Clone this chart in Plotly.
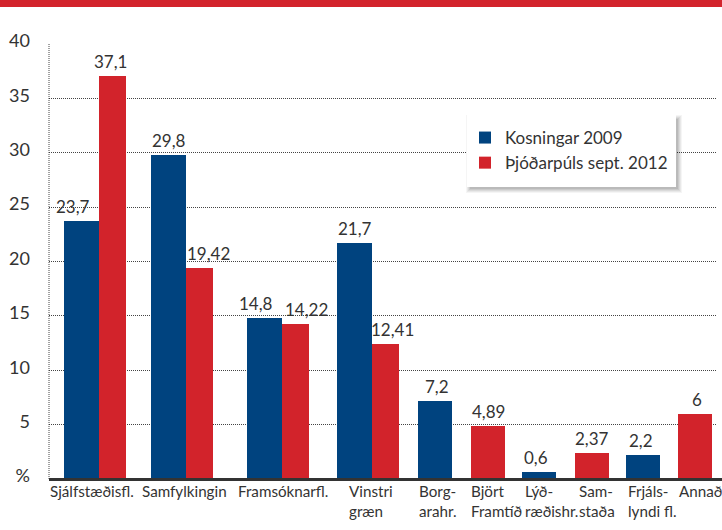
import plotly.graph_objects as go

# ---- data ----
parties = ["Sjálfstæðisfl.", "Samfylkingin", "Framsóknarfl.", "Vinstri<br>græn",
           "Borg-<br>arahr.", "Björt<br>Framtíð", "Lýð-<br>ræðishr.", "Sam-<br>staða",
           "Frjáls-<br>lyndi fl.", "Annað"]
kosningar_2009 = [23.7, 29.8, 14.8, 21.7, 7.2, None, 0.6, None, 2.2, None]
thjodarpuls_2012 = [37.1, 19.42, 14.22, 12.41, None, 4.89, None, 2.37, None, 6]
y_ticks = [0, 5, 10, 15, 20, 25, 30, 35, 40]
y_ticktext = ["%", "5", "10", "15", "20", "25", "30", "35", "40"]
series_names = ["Kosningar 2009", "Þjóðarpúls sept. 2012"]

# ---- layout constants (pixel space) ----
W, H = 722, 530
PL, PR, PT, PB = 49, 716, 44, 479
slot_left = [64, 151, 247, 337, 418, 471, 522, 575, 626, 678]
BLUE_W, RED_W_PAIR, SINGLE_W = 35, 27, 34
label_anchor = ["center", "center", "center", "left", "left", "left", "left", "left", "left", "left"]
label_shift = [-3, 2, 5, 10, -1, -2, 1, 2, 0, -1]
blue_dx = [-8.5, 0.5, -9, 0, 1.5, 0, -3, 0, -2.5, 0]
red_dx = [-2.5, 9, 10.5, 7, 0, 0, 0, 0, 0, 1.5]

BLUE = "#00437f"
RED = "#d2232b"
TXT = "#333333"
FONT = "Lato"


def fx(x):
    return (x - PL) / (PR - PL)


def fy(y):
    return (PB - y) / (PB - PT)


def fmt(v):
    return ("%g" % v).replace(".", ",")


bx, bw, by, bt, bdx = [], [], [], [], []
rx, rw, ry, rt, rdx = [], [], [], [], []
centers = []
for i, (b, r) in enumerate(zip(kosningar_2009, thjodarpuls_2012)):
    left = slot_left[i]
    if b is not None and r is not None:
        bx.append(left + BLUE_W / 2); bw.append(BLUE_W); by.append(b); bt.append(fmt(b)); bdx.append(blue_dx[i])
        rx.append(left + BLUE_W + RED_W_PAIR / 2); rw.append(RED_W_PAIR); ry.append(r); rt.append(fmt(r)); rdx.append(red_dx[i])
        centers.append((left + (left + BLUE_W + RED_W_PAIR)) / 2)
    elif b is not None:
        bx.append(left + SINGLE_W / 2); bw.append(SINGLE_W); by.append(b); bt.append(fmt(b)); bdx.append(blue_dx[i])
        centers.append(left + SINGLE_W / 2)
    else:
        rx.append(left + SINGLE_W / 2); rw.append(SINGLE_W); ry.append(r); rt.append(fmt(r)); rdx.append(red_dx[i])
        centers.append(left + SINGLE_W / 2)

fig = go.Figure()
fig.add_trace(go.Bar(x=bx, y=by, width=bw, name=series_names[0], marker_color=BLUE,
                     marker_line_width=0, hovertext=bt, hoverinfo="text+name"))
fig.add_trace(go.Bar(x=rx, y=ry, width=rw, name=series_names[1], marker_color=RED,
                     marker_line_width=0, hovertext=rt, hoverinfo="text+name"))

shapes = []
# red banner at top
shapes.append(dict(type="rect", xref="paper", yref="paper", x0=fx(0), x1=fx(W), y0=fy(0), y1=fy(7),
                   fillcolor="#d3242c", line_width=0, layer="above"))
# left dotted axis
shapes.append(dict(type="line", xref="paper", yref="paper", x0=0, x1=0, y0=0, y1=1,
                   line=dict(color="#444", width=1, dash="1px,1px"), layer="below"))
# baseline
shapes.append(dict(type="line", xref="paper", yref="paper", x0=0, x1=fx(W), y0=fy(479.5), y1=fy(479.5),
                   line=dict(color="#333", width=3), layer="above"))
# legend box with soft shadow
LX0, LX1, LY0, LY1 = 467, 676, 115, 187
for k, op in [(6, 0.04), (5, 0.05), (4, 0.06), (3, 0.07), (2, 0.08)]:
    shapes.append(dict(type="rect", xref="paper", yref="paper",
                       x0=fx(LX0 + 5 - k), x1=fx(LX1 + k), y0=fy(LY0 + 6 - k), y1=fy(LY1 + k),
                       fillcolor="rgba(0,0,0,%g)" % op, line_width=0, layer="above"))
shapes.append(dict(type="rect", xref="paper", yref="paper", x0=fx(LX0), x1=fx(LX1), y0=fy(LY0), y1=fy(LY1),
                   fillcolor="white", line_width=0, layer="above"))

annotations = []
# category labels
for i, name in enumerate(parties):
    x = slot_left[i] + label_shift[i] if label_anchor[i] == "left" else centers[i] + label_shift[i]
    annotations.append(dict(text=name, xref="paper", yref="paper", x=fx(x), y=fy(480),
                            xanchor=label_anchor[i], yanchor="top", align="left", showarrow=False,
                            font=dict(family=FONT, size=15.2, color=TXT)))
# value labels
for xs, ys, ts, dxs in [(bx, by, bt, bdx), (rx, ry, rt, rdx)]:
    for x, y, t, dx in zip(xs, ys, ts, dxs):
        annotations.append(dict(text=t, xref="x", yref="y", x=x + dx, y=y, xanchor="center",
                                yanchor="bottom", yshift=2, showarrow=False,
                                font=dict(family=FONT, size=17, color=TXT)))

fig.update_layout(
    width=W, height=H,
    margin=dict(l=PL, r=W - PR, t=PT, b=H - PB, pad=0),
    paper_bgcolor="white", plot_bgcolor="white",
    barmode="overlay", bargap=0,
    showlegend=True,
    legend=dict(x=fx(LX0 - 2), y=fy(LY0 + 5), xanchor="left", yanchor="top",
                bgcolor="rgba(0,0,0,0)", borderwidth=0,
                font=dict(family=FONT, size=17, color=TXT), tracegroupgap=0),
    xaxis=dict(range=[PL, PR], showgrid=False, showticklabels=False, zeroline=False,
               showline=False, ticks=""),
    yaxis=dict(range=[0, 40], tickvals=y_ticks, ticktext=y_ticktext,
               showgrid=True, gridcolor="#444", gridwidth=1, griddash="1px,1px",
               zeroline=False, showline=False, ticks="", ticklabelstandoff=18,
               ticklabelshift=-3,
               tickfont=dict(family=FONT, size=18, color=TXT)),
    shapes=shapes, annotations=annotations,
)

fig.write_html("out.html", config={"displayModeBar": False},
               post_script="document.body.style.margin='0';")
